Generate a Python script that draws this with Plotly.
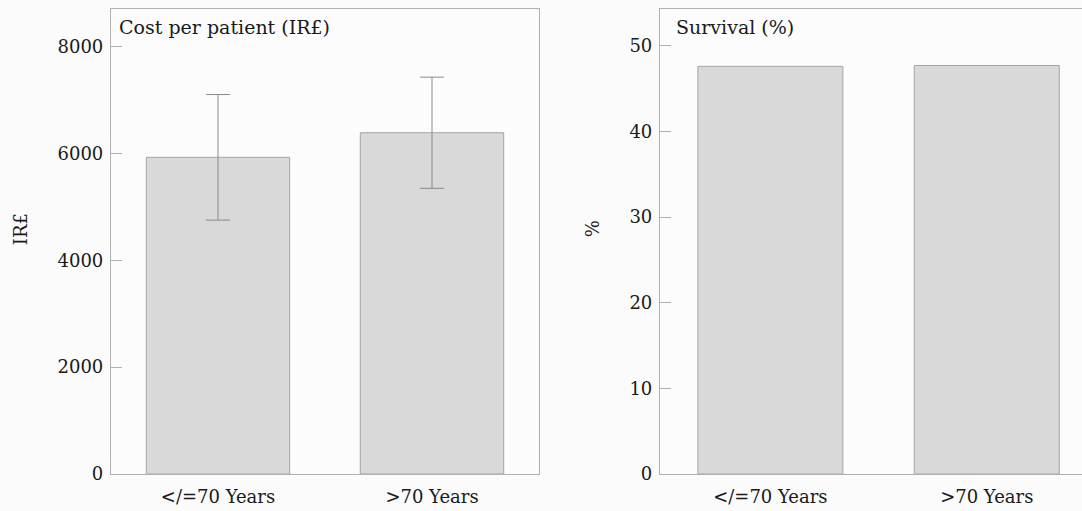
import plotly.graph_objects as go

categories = ["</=70 Years", ">70 Years"]
cost_values = [5925, 6385]
cost_errors = [1175, 1040]
survival_values = [47.6, 47.7]

cost_ticks = [0, 2000, 4000, 6000, 8000]
survival_ticks = [0, 10, 20, 30, 40, 50]

FONT = "DejaVu Serif"
TXT = "#1a1a1a"
LINE = "#b0b0b0"
BAR_FILL = "#d9d9d9"
BAR_LINE = "#a5a5a5"

W, H = 1082, 511
fig = go.Figure()

fig.add_trace(go.Bar(
    x=categories, y=cost_values, width=0.67,
    marker=dict(color=BAR_FILL, line=dict(color=BAR_LINE, width=1)),
    error_y=dict(type="data", array=cost_errors, visible=True,
                 color="#8a8a8a", thickness=1, width=12),
    xaxis="x", yaxis="y", showlegend=False,
))
fig.add_trace(go.Bar(
    x=categories, y=survival_values, width=0.67,
    marker=dict(color=BAR_FILL, line=dict(color=BAR_LINE, width=1)),
    xaxis="x2", yaxis="y2", showlegend=False,
))

tickfont = dict(family=FONT, size=18, color=TXT)
common_x = dict(type="category", showgrid=False, zeroline=False, showline=True,
                linecolor=LINE, linewidth=1.2, ticks="", tickfont=tickfont,
                automargin=False, fixedrange=True, ticklabelstandoff=6)
common_y = dict(showgrid=False, zeroline=False, showline=True, linecolor=LINE,
                linewidth=1.2, ticks="inside", ticklen=11, tickcolor=LINE,
                tickfont=tickfont, automargin=False, ticklabelstandoff=3)

fig.update_layout(
    width=W, height=H,
    margin=dict(l=0, r=0, t=9, b=37),
    paper_bgcolor="#fbfbfb", plot_bgcolor="#fcfcfc",
    bargap=0.33,
    font=dict(family=FONT, color=TXT),
    xaxis=dict(domain=[111 / W, 539 / W], range=[-0.5, 1.5], mirror=True, anchor="y", **common_x),
    yaxis=dict(domain=[0, 1], range=[0, 8700], tickvals=cost_ticks, mirror=True, anchor="x",
               **common_y),
    xaxis2=dict(domain=[660 / W, 1.0], range=[-0.51, 1.44], mirror=True, anchor="y2", **common_x),
    yaxis2=dict(domain=[0, 1], range=[0, 54.3], tickvals=survival_ticks, mirror=False, anchor="x2",
                **common_y),
    annotations=[
        dict(text="Cost per patient (IR£)", xref="x domain", yref="y domain", x=0, y=1,
             xanchor="left", yanchor="top", xshift=6, yshift=-5, showarrow=False,
             font=dict(family=FONT, size=19, color=TXT)),
        dict(text="Survival (%)", xref="x2 domain", yref="y2 domain", x=0, y=1,
             xanchor="left", yanchor="top", xshift=14, yshift=-5, showarrow=False,
             font=dict(family=FONT, size=19, color=TXT)),
        dict(text="IR£", xref="paper", yref="paper", x=20 / W, y=1 - 242 / H,
             xanchor="center", yanchor="middle", textangle=-90, showarrow=False,
             font=dict(family=FONT, size=18, color=TXT)),
        dict(text="%", xref="paper", yref="paper", x=592 / W, y=1 - 242 / H,
             xanchor="center", yanchor="middle", textangle=-90, showarrow=False,
             font=dict(family=FONT, size=18, color=TXT)),
    ],
)

fig.write_html("out.html", config={"displayModeBar": False},
               post_script="document.body.style.margin='0px';document.body.style.overflow='hidden';")
